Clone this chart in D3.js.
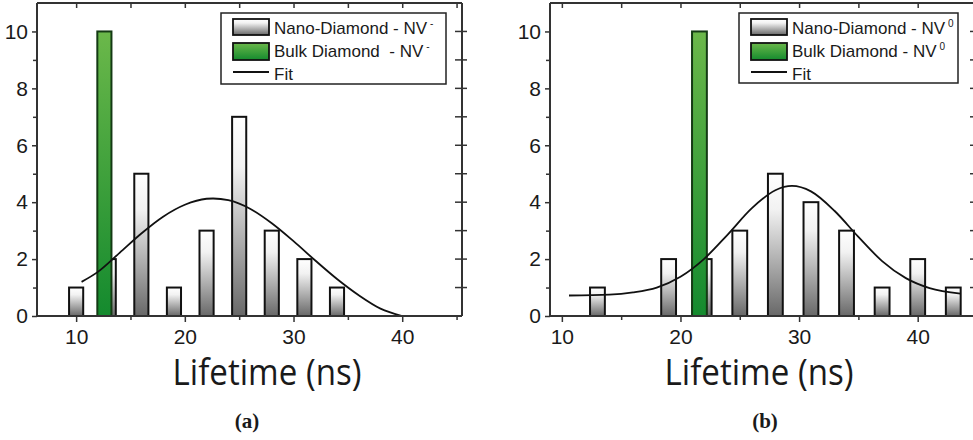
<!DOCTYPE html>
<html>
<head>
<meta charset="utf-8">
<script src="https://d3js.org/d3.v7.min.js"></script>
<style>
  body { margin: 0; background: #fff; }
  text { font-family: "Liberation Sans", Arial, sans-serif; fill: #1a1a1a; }
</style>
</head>
<body>
<div id="chart"></div>
<script>
// ---- data ----
// panel (a): NV- lifetimes
var binsA = [10, 13, 16, 19, 22, 25, 28, 31, 34];
var nanoA = [1, 2, 5, 1, 3, 7, 3, 2, 1];
var bulkPosA = [12.6];
var bulkA = [10];
var fitXA = [10.5, 12, 14, 16, 18, 20, 22, 22.6, 24, 26, 28, 30, 32, 34, 36, 38, 40];
var fitYA = [1.2, 1.55, 2.22, 2.9, 3.49, 3.91, 4.12, 4.13, 4.07, 3.77, 3.26, 2.63, 1.95, 1.3, 0.73, 0.26, 0];

// panel (b): NV0 lifetimes
var binsB = [13, 19, 22, 25, 28, 31, 34, 37, 40, 43];
var nanoB = [1, 2, 2, 3, 5, 4, 3, 1, 2, 1];
var bulkPosB = [21.6];
var bulkB = [10];
var fitXB = [10.6, 14, 16, 18, 20, 22, 24, 26, 28, 29.4, 31, 33, 35, 37, 39, 41, 43.6];
var fitYB = [0.72, 0.75, 0.83, 1.0, 1.38, 2.01, 2.87, 3.78, 4.42, 4.57, 4.38, 3.69, 2.78, 1.93, 1.33, 0.98, 0.79];

var xMajor = [10, 20, 30, 40];
var xMinor = [15, 25, 35, 45];
var yMajor = [0, 2, 4, 6, 8, 10];
var yMinor = [1, 3, 5, 7, 9];

var W = 973, H = 440;

var svg = d3.select("#chart")
  .append("svg")
    .attr("width", W)
    .attr("height", H);

// gradients for the bars
var defs = svg.append("defs");
var gN = defs.append("linearGradient").attr("id", "gradNano")
  .attr("x1", 0).attr("y1", 0).attr("x2", 0).attr("y2", 1);
gN.append("stop").attr("offset", "0%").attr("stop-color", "#ffffff");
gN.append("stop").attr("offset", "25%").attr("stop-color", "#f2f2f2");
gN.append("stop").attr("offset", "100%").attr("stop-color", "#686868");
var gB = defs.append("linearGradient").attr("id", "gradBulk")
  .attr("x1", 0).attr("y1", 0).attr("x2", 0).attr("y2", 1);
gB.append("stop").attr("offset", "0%").attr("stop-color", "#6bb84a");
gB.append("stop").attr("offset", "100%").attr("stop-color", "#148a2e");

function drawPanel(p) {
  var g = svg.append("g");

  var x = d3.scaleLinear().domain(p.xDomain).range([p.left, p.right]);
  var y = d3.scaleLinear().domain([0, 11]).range([p.bottom, p.top]);
  var bw = p.barW;

  // nano-diamond bars
  g.selectAll(".nano")
    .data(p.bins.map(function(b, i) { return {pos: b, n: p.nano[i]}; }))
    .enter().append("rect")
      .attr("x", function(d) { return x(d.pos - bw / 2); })
      .attr("y", function(d) { return y(d.n); })
      .attr("width", x(bw) - x(0))
      .attr("height", function(d) { return y(0) - y(d.n); })
      .style("fill", "url(#gradNano)")
      .style("stroke", "#111")
      .style("stroke-width", 2);

  // bulk diamond bar
  g.selectAll(".bulk")
    .data(p.bulkPos.map(function(b, i) { return {pos: b, n: p.bulk[i]}; }))
    .enter().append("rect")
      .attr("x", function(d) { return x(d.pos - bw / 2); })
      .attr("y", function(d) { return y(d.n); })
      .attr("width", x(bw) - x(0))
      .attr("height", function(d) { return y(0) - y(d.n); })
      .style("fill", "url(#gradBulk)")
      .style("stroke", "#143a14")
      .style("stroke-width", 2);

  // gaussian fit
  var line = d3.line()
    .x(function(d) { return x(d[0]); })
    .y(function(d) { return y(d[1]); })
    .curve(d3.curveMonotoneX);
  g.append("path")
    .datum(p.fitX.map(function(v, i) { return [v, p.fitY[i]]; }))
    .attr("d", line)
    .style("fill", "none")
    .style("stroke", "#111")
    .style("stroke-width", 1.8);

  // frame
  var frameColor = "#333";
  g.append("line").attr("x1", p.left).attr("x2", p.right).attr("y1", p.top).attr("y2", p.top)
    .style("stroke", frameColor).style("stroke-width", 2);
  g.append("line").attr("x1", p.right).attr("x2", p.right).attr("y1", p.top).attr("y2", p.bottom)
    .style("stroke", frameColor).style("stroke-width", 2);

  // bottom axis
  var bottomAxis = g.append("g")
    .attr("transform", "translate(0," + p.bottom + ")")
    .call(d3.axisBottom(x).tickValues(xMajor).tickSize(6).tickPadding(7).tickFormat(d3.format("d")));
  g.append("g")
    .attr("transform", "translate(0," + p.bottom + ")")
    .call(d3.axisBottom(x).tickValues(xMinor).tickSize(4).tickFormat(""))
    .select(".domain").remove();
  bottomAxis.select(".domain").attr("d", "M" + p.left + ",0H" + p.right);

  // left axis
  var leftAxis = g.append("g")
    .attr("transform", "translate(" + p.left + ",0)")
    .call(d3.axisLeft(y).tickValues(yMajor).tickSize(5).tickPadding(4));
  g.append("g")
    .attr("transform", "translate(" + p.left + ",0)")
    .call(d3.axisLeft(y).tickValues(yMinor).tickSize(4).tickFormat(""))
    .select(".domain").remove();
  leftAxis.select(".domain").attr("d", "M0," + p.top + "V" + p.bottom);

  // top ticks (inward)
  g.append("g")
    .attr("transform", "translate(0," + p.top + ")")
    .call(d3.axisTop(x).tickValues(xMajor.concat(xMinor)).tickSize(-5).tickFormat(""))
    .select(".domain").remove();

  // right ticks (crossing)
  g.selectAll(".rtick")
    .data(yMajor.concat(yMinor).filter(function(v) { return v > 0; }))
    .enter().append("line")
      .attr("x1", p.right - 7).attr("x2", p.right + 5)
      .attr("y1", function(d) { return y(d); })
      .attr("y2", function(d) { return y(d); })
      .style("stroke", frameColor).style("stroke-width", 1.5);

  g.selectAll(".domain").style("stroke", frameColor).style("stroke-width", 2);
  g.selectAll(".tick line").style("stroke", frameColor).style("stroke-width", 1.5);
  g.selectAll(".tick text")
    .style("font-family", "'Liberation Sans', Arial, sans-serif")
    .style("font-size", "21px")
    .style("fill", "#1a1a1a");

  // axis title
  g.append("text")
    .attr("transform", "translate(" + p.titleX + ",385) scale(0.92,1)")
    .attr("text-anchor", "middle")
    .style("font-family", "'Open Sans', sans-serif")
    .style("font-size", "36px")
    .text("Lifetime (ns)");

  // legend
  var L = p.legend;
  g.append("rect")
    .attr("x", L.x).attr("y", L.y).attr("width", L.w).attr("height", L.h)
    .style("fill", "#fff").style("stroke", "#222").style("stroke-width", 1.5);
  var sx = L.x + 12, sw = 36;
  g.append("rect").attr("x", sx).attr("y", L.y + 6).attr("width", sw).attr("height", 16)
    .style("fill", "url(#gradNano)").style("stroke", "#111").style("stroke-width", 1.8);
  g.append("rect").attr("x", sx).attr("y", L.y + 30).attr("width", sw).attr("height", 17)
    .style("fill", "url(#gradBulk)").style("stroke", "#111").style("stroke-width", 1.8);
  g.append("line").attr("x1", sx).attr("x2", sx + sw).attr("y1", L.y + 59).attr("y2", L.y + 59)
    .style("stroke", "#111").style("stroke-width", 1.8);

  var labels = [p.labels[0], p.labels[1], ["Fit", ""]];
  labels.forEach(function(lab, i) {
    var t = g.append("text")
      .attr("x", sx + sw + 5)
      .attr("y", L.y + 21 + i * 23)
      .style("font-size", "17px")
      .style("white-space", "pre");
    t.append("tspan").text(lab[0]);
    if (lab[1]) {
      t.append("tspan").attr("dy", -7).attr("dx", 3).style("font-size", "10px").text(lab[1]);
    }
  });

  // caption
  svg.append("text")
    .attr("x", p.captionX).attr("y", 428)
    .attr("text-anchor", "middle")
    .style("font-family", "'Liberation Serif', 'DejaVu Serif', serif")
    .style("font-weight", "bold")
    .style("font-size", "21px")
    .text(p.caption);
}

drawPanel({
  left: 37, right: 462, top: 3, bottom: 316,
  xDomain: [6.4, 45.5], barW: 1.3,
  bins: binsA, nano: nanoA, bulkPos: bulkPosA, bulk: bulkA,
  fitX: fitXA, fitY: fitYA,
  titleX: 267, captionX: 247, caption: "(a)",
  legend: {x: 221, y: 13, w: 225, h: 71},
  labels: [["Nano-Diamond - NV", "-"], ["Bulk Diamond  - NV", "-"]]
});

drawPanel({
  left: 550, right: 977, top: 3, bottom: 316,
  xDomain: [9, 45], barW: 1.25,
  bins: binsB, nano: nanoB, bulkPos: bulkPosB, bulk: bulkB,
  fitX: fitXB, fitY: fitYB,
  titleX: 759, captionX: 765, caption: "(b)",
  legend: {x: 739, y: 13, w: 219, h: 70},
  labels: [["Nano-Diamond - NV", "0"], ["Bulk Diamond - NV", "0"]]
});
</script>
</body>
</html>
